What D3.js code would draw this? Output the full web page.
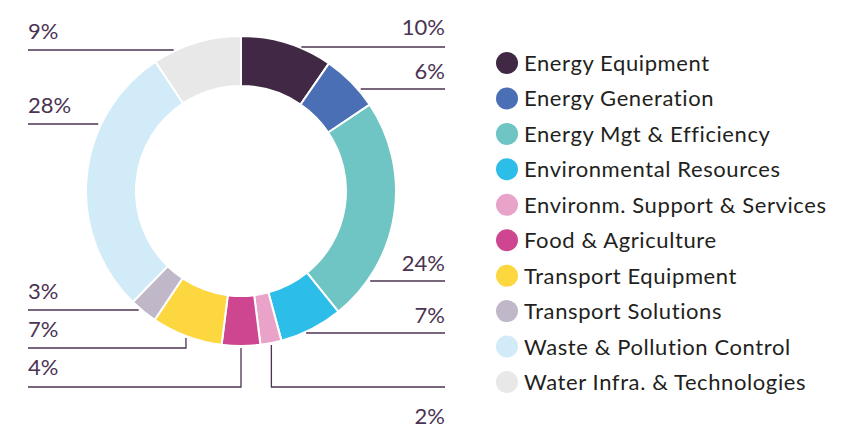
<!DOCTYPE html>
<html>
<head>
<meta charset="utf-8">
<script src="https://cdn.jsdelivr.net/npm/d3@7"></script>
<style>
  html, body { margin: 0; padding: 0; background: #fff; }
  svg { display: block; }
</style>
</head>
<body>
<div id="chart"></div>
<script>
// sector shares (percent), clockwise from 12 o'clock
const categories = [
    "Energy Equipment",
    "Energy Generation",
    "Energy Mgt & Efficiency",
    "Environmental Resources",
    "Environm. Support & Services",
    "Food & Agriculture",
    "Transport Equipment",
    "Transport Solutions",
    "Waste & Pollution Control",
    "Water Infra. & Technologies"
];
const shares = [9.6, 6.0, 23.6, 6.6, 2.2, 4.0, 7.4, 2.9, 28.4, 9.3];
const colors = [
    "#412945", "#4a6fb5", "#6fc4c4", "#2dbde9", "#e9a3c9",
    "#cf4690", "#fdd73f", "#c0b8c9", "#d2ebf9", "#e8e8e8"
];

// label layout (leader line height, text baseline, line style)
const labelLineY = [47, 89, 281, 333, 387, 387, 348, 310, 124, 50];
const labelTextY = [35, 79, 271, 323, 424, 375, 337, 299, 113, 39];
const labelKind = ["flat", "flat", "flat", "flat", "elbow", "elbow", "elbow", "flat", "flat", "flat"];

const width = 855, height = 428;
const cx = 241, cy = 191;
const outerR = 155, innerR = 105;
const leftEdge = 28, rightEdge = 445;
const ink = "#4b3352";

const svg = d3.select("#chart").append("svg")
    .attr("width", width)
    .attr("height", height);

const pie = d3.pie().sort(null).value(d => d);
const arcs = pie(shares);
const arc = d3.arc().innerRadius(innerR).outerRadius(outerR);

const g = svg.append("g").attr("transform", `translate(${cx},${cy})`);

g.selectAll("path.slice")
    .data(arcs)
    .join("path")
    .attr("class", "slice")
    .attr("d", arc)
    .attr("fill", (d, i) => colors[i])
    .attr("stroke", "#fff")
    .attr("stroke-width", 2);

// leader lines
function leaderPoints(d, i) {
    const mid = (d.startAngle + d.endAngle) / 2;
    const right = mid < Math.PI;
    const edge = right ? rightEdge : leftEdge;
    const ly = labelLineY[i];
    if (labelKind[i] === "elbow") {
        const rr = outerR + 2;
        const x0 = cx + rr * Math.sin(mid);
        const y0 = cy - rr * Math.cos(mid);
        return [[x0, y0], [x0, ly], [edge, ly]];
    }
    const dy = ly - cy;
    const dx = Math.sqrt(Math.max(0, outerR * outerR - dy * dy)) + 3;
    const x0 = right ? cx + dx : cx - dx;
    return [[x0, ly], [edge, ly]];
}

svg.selectAll("path.leader")
    .data(arcs)
    .join("path")
    .attr("class", "leader")
    .attr("d", (d, i) => d3.line()(leaderPoints(d, i)))
    .attr("fill", "none")
    .attr("stroke", ink)
    .attr("stroke-width", 1.3);

svg.selectAll("text.pct")
    .data(arcs)
    .join("text")
    .attr("class", "pct")
    .attr("x", d => ((d.startAngle + d.endAngle) / 2 < Math.PI ? rightEdge : leftEdge))
    .attr("y", (d, i) => labelTextY[i])
    .attr("text-anchor", d => ((d.startAngle + d.endAngle) / 2 < Math.PI ? "end" : "start"))
    .attr("font-family", "Lato, 'Open Sans', sans-serif")
    .attr("font-size", 22)
    .attr("fill", ink)
    .text(d => Math.round(d.data) + "%");

// legend
const legendY = d3.scalePoint()
    .domain(categories)
    .range([63, 382]);

const legend = svg.append("g");
const rows = legend.selectAll("g.row")
    .data(categories)
    .join("g")
    .attr("class", "row")
    .attr("transform", d => `translate(0,${legendY(d)})`);

rows.append("circle")
    .attr("cx", 507)
    .attr("cy", 0)
    .attr("r", 11)
    .attr("fill", (d, i) => colors[i]);

rows.append("text")
    .attr("x", 524)
    .attr("y", 8)
    .attr("font-family", "Lato, 'Open Sans', sans-serif")
    .attr("font-size", 22)
    .attr("letter-spacing", 0.6)
    .attr("fill", "#231f20")
    .text(d => d);
</script>
</body>
</html>
